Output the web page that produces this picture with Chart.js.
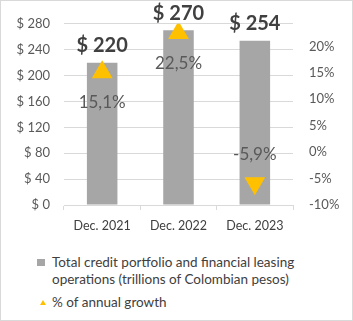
<!DOCTYPE html>
<html>
<head>
<meta charset="utf-8">
<script src="https://cdn.jsdelivr.net/npm/chart.js@4.4.0/dist/chart.umd.min.js"></script>
<style>
  html, body { margin: 0; padding: 0; background: #fff; }
  #wrap { position: relative; width: 353px; height: 321px; box-sizing: border-box; border: 1px solid #d9d9d9; overflow: hidden; font-family: Lato, "Noto Sans", sans-serif; }
  #chart { position: absolute; left: -1px; top: -1px; }
  .leg { position: absolute; left: 51px; color: #404040; font-size: 13.5px; line-height: 17px; white-space: nowrap; }
  .sq { position: absolute; left: 36px; top: 258px; width: 8px; height: 7px; background: #a6a6a6; }
  .tri { position: absolute; left: 39px; top: 299px; width: 0; height: 0; border-left: 3px solid transparent; border-right: 3px solid transparent; border-bottom: 5px solid #ffc000; }
</style>
</head>
<body>
<div id="wrap">
  <canvas id="chart" width="353" height="240"></canvas>
  <div class="sq"></div>
  <div class="leg" style="top:253px;">Total credit portfolio and financial leasing<br>operations (trillions of Colombian pesos)</div>
  <div class="tri"></div>
  <div class="leg" style="top:293px;">% of annual growth</div>
</div>
<script>
(function () {
  'use strict';

  var categories = ['Dec. 2021', 'Dec. 2022', 'Dec. 2023'];
  var portfolio = [220, 270, 254];
  var growth = [15.1, 22.5, -5.9];
  var leftTicks = [0, 40, 80, 120, 160, 200, 240, 280];
  var rightTicks = [-10, -5, 0, 5, 10, 15, 20];

  var grayText = '#595959';
  var darkText = '#404040';
  var gridColor = '#d9d9d9';
  var fontFam = 'Lato, "Noto Sans", sans-serif';

  var labelPlugin = {
    id: 'valueLabels',
    afterDatasetsDraw: function (chart) {
      var ctx = chart.ctx;
      ctx.save();
      ctx.textAlign = 'center';
      ctx.textBaseline = 'middle';

      var bars = chart.getDatasetMeta(0).data;
      ctx.fillStyle = darkText;
      ctx.font = 'bold 20px ' + fontFam;
      bars.forEach(function (el, i) {
        ctx.fillText('$ ' + portfolio[i], el.x, el.y - 17);
      });

      var pts = chart.getDatasetMeta(1).data;
      ctx.fillStyle = grayText;
      ctx.font = '17px ' + fontFam;
      pts.forEach(function (el, i) {
        var v = growth[i];
        var txt = v.toFixed(1).replace('.', ',') + '%';
        ctx.fillText(txt, el.x, v >= 0 ? el.y + 30 : el.y - 29);
      });
      ctx.restore();
    }
  };

  new Chart(document.getElementById('chart'), {
    data: {
      labels: categories,
      datasets: [{
        type: 'bar',
        label: 'Total credit portfolio and financial leasing operations (trillions of Colombian pesos)',
        data: portfolio,
        backgroundColor: '#a6a6a6',
        barPercentage: 0.8,
        categoryPercentage: 0.5,
        yAxisID: 'y',
        order: 1
      }, {
        type: 'line',
        label: '% of annual growth',
        data: growth,
        yAxisID: 'y2',
        showLine: false,
        pointStyle: 'triangle',
        pointRadius: 12,
        pointRotation: [0, 0, 180],
        pointBackgroundColor: '#ffc000',
        pointBorderWidth: 0,
        order: 0
      }]
    },
    options: {
      responsive: false,
      animation: false,
      devicePixelRatio: 1,
      layout: { padding: { top: 20, left: 0, right: 0, bottom: 0 } },
      plugins: { legend: { display: false }, tooltip: { enabled: false } },
      scales: {
        x: {
          grid: { drawOnChartArea: false, drawTicks: true, tickLength: 5, color: gridColor, offset: true },
          border: { display: true, color: gridColor },
          ticks: { color: darkText, font: { family: fontFam, size: 12.5 }, padding: 8 },
          afterFit: function (s) { s.height = 35; }
        },
        y: {
          position: 'left',
          min: 0,
          max: 280,
          afterBuildTicks: function (s) { s.ticks = leftTicks.map(function (v) { return { value: v }; }); },
          grid: { color: gridColor, drawTicks: false },
          border: { display: false },
          ticks: { color: grayText, font: { family: fontFam, size: 13 }, padding: 14,
            callback: function (v) { return '$ ' + v; } },
          afterFit: function (s) { s.width = 64; }
        },
        y2: {
          position: 'right',
          min: -10,
          max: 24.26,
          afterBuildTicks: function (s) { s.ticks = rightTicks.map(function (v) { return { value: v }; }); },
          grid: { drawOnChartArea: false, drawTicks: false },
          border: { display: false },
          ticks: { color: grayText, font: { family: fontFam, size: 13 }, padding: 16,
            callback: function (v) { return v + '%'; } },
          afterFit: function (s) { s.width = 60; }
        }
      }
    },
    plugins: [labelPlugin]
  });
})();
</script>
</body>
</html>
